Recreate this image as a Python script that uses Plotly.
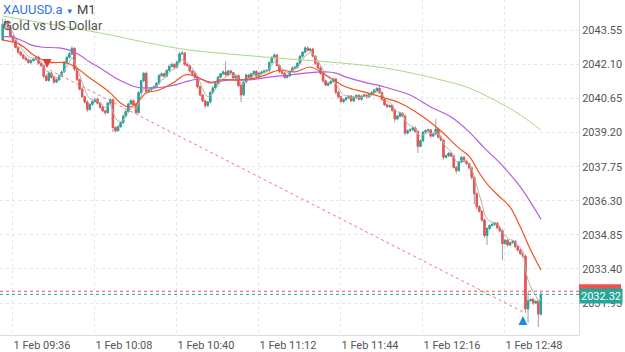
import pandas as pd
import plotly.graph_objects as go

symbol = "XAUUSD.a"
timeframe = "M1"
description = "Gold vs US Dollar"
start_time = "2024-02-01 09:32"

opens = [
    2043.14, 2043.80, 2043.92, 2043.66, 2043.30, 2043.10, 2042.82, 2042.62, 2042.50, 2042.37,
    2042.30, 2042.18, 2042.26, 2042.32, 2042.40, 2042.15, 2042.05, 2041.60, 2041.42, 2041.73,
    2041.55, 2041.35, 2041.45, 2041.62, 2041.78, 2042.20, 2042.40, 2042.55, 2042.78, 2041.90,
    2041.45, 2041.05, 2040.72, 2040.50, 2040.18, 2040.40, 2040.52, 2040.62, 2040.45, 2040.28,
    2040.12, 2040.05, 2040.45, 2040.60, 2039.42, 2039.28, 2039.45, 2039.62, 2039.90, 2040.10,
    2040.42, 2040.55, 2040.40, 2040.05, 2040.90, 2041.40, 2041.72, 2040.95, 2041.02, 2041.10,
    2041.15, 2041.30, 2041.62, 2041.70, 2041.60, 2041.85, 2042.02, 2042.10, 2041.98, 2042.20,
    2042.55, 2042.58, 2042.10, 2042.05, 2041.82, 2041.70, 2041.55, 2041.15, 2040.80, 2040.55,
    2040.35, 2040.50, 2040.90, 2041.10, 2041.30, 2041.55, 2041.70, 2041.78, 2041.65, 2041.82,
    2041.75, 2041.52, 2041.62, 2041.20, 2040.80, 2041.35, 2041.65, 2041.55, 2041.70, 2041.80,
    2041.60, 2041.72, 2041.78, 2041.82, 2041.85, 2042.18, 2042.40, 2042.50, 2042.05, 2041.80,
    2041.72, 2041.55, 2041.62, 2041.80, 2041.95, 2041.98, 2042.15, 2042.45, 2042.62, 2042.80,
    2042.70, 2042.75, 2042.45, 2042.15, 2041.95, 2041.72, 2041.40, 2041.22, 2041.30, 2041.38,
    2041.48, 2040.92, 2040.72, 2040.52, 2040.60, 2040.68, 2040.75, 2040.55, 2040.70, 2040.78,
    2040.62, 2040.75, 2040.80, 2040.72, 2040.82, 2040.90, 2041.00, 2041.08, 2040.90, 2040.62,
    2040.38, 2040.30, 2040.35, 2040.15, 2039.78, 2039.90, 2040.02, 2039.90, 2039.18, 2039.28,
    2039.32, 2039.40, 2039.25, 2038.62, 2038.85, 2039.22, 2039.28, 2039.32, 2039.05, 2039.15,
    2039.35, 2039.00, 2038.88, 2038.15, 2038.22, 2038.32, 2038.20, 2037.72, 2037.58, 2037.95,
    2038.15, 2037.98, 2037.88, 2037.70, 2037.30, 2036.60, 2036.05, 2035.85, 2035.48, 2034.82,
    2035.12, 2035.25, 2035.30, 2035.35, 2035.15, 2035.02, 2034.48, 2034.62, 2034.42, 2034.52,
    2034.58, 2034.35, 2034.20, 2034.05, 2033.95, 2031.70, 2032.05, 2032.10, 2031.95, 2032.02,
    2031.48,
]

closes = [
    2043.80, 2043.92, 2043.66, 2043.30, 2043.10, 2042.82, 2042.62, 2042.50, 2042.37, 2042.30,
    2042.18, 2042.26, 2042.32, 2042.40, 2042.15, 2042.05, 2041.60, 2041.42, 2041.73, 2041.55,
    2041.35, 2041.45, 2041.62, 2041.78, 2042.20, 2042.40, 2042.55, 2042.78, 2041.90, 2041.45,
    2041.05, 2040.72, 2040.50, 2040.18, 2040.40, 2040.52, 2040.62, 2040.45, 2040.28, 2040.12,
    2040.05, 2040.45, 2040.60, 2039.42, 2039.28, 2039.45, 2039.62, 2039.90, 2040.10, 2040.42,
    2040.55, 2040.40, 2040.05, 2040.90, 2041.40, 2041.72, 2040.95, 2041.02, 2041.10, 2041.15,
    2041.30, 2041.62, 2041.70, 2041.60, 2041.85, 2042.02, 2042.10, 2041.98, 2042.20, 2042.55,
    2042.58, 2042.10, 2042.05, 2041.82, 2041.70, 2041.55, 2041.15, 2040.80, 2040.55, 2040.35,
    2040.50, 2040.90, 2041.10, 2041.30, 2041.55, 2041.70, 2041.78, 2041.65, 2041.82, 2041.75,
    2041.52, 2041.62, 2041.20, 2040.80, 2041.35, 2041.65, 2041.55, 2041.70, 2041.80, 2041.60,
    2041.72, 2041.78, 2041.82, 2041.85, 2042.18, 2042.40, 2042.50, 2042.05, 2041.80, 2041.72,
    2041.55, 2041.62, 2041.80, 2041.95, 2041.98, 2042.15, 2042.45, 2042.62, 2042.80, 2042.70,
    2042.75, 2042.45, 2042.15, 2041.95, 2041.72, 2041.40, 2041.22, 2041.30, 2041.38, 2041.48,
    2040.92, 2040.72, 2040.52, 2040.60, 2040.68, 2040.75, 2040.55, 2040.70, 2040.78, 2040.62,
    2040.75, 2040.80, 2040.72, 2040.82, 2040.90, 2041.00, 2041.08, 2040.90, 2040.62, 2040.38,
    2040.30, 2040.35, 2040.15, 2039.78, 2039.90, 2040.02, 2039.90, 2039.18, 2039.28, 2039.32,
    2039.40, 2039.25, 2038.62, 2038.85, 2039.22, 2039.28, 2039.32, 2039.05, 2039.15, 2039.35,
    2039.00, 2038.88, 2038.15, 2038.22, 2038.32, 2038.20, 2037.72, 2037.58, 2037.95, 2038.15,
    2037.98, 2037.88, 2037.70, 2037.30, 2036.60, 2036.05, 2035.85, 2035.48, 2034.82, 2035.12,
    2035.25, 2035.30, 2035.35, 2035.15, 2035.02, 2034.48, 2034.62, 2034.42, 2034.52, 2034.58,
    2034.35, 2034.20, 2034.05, 2033.95, 2031.70, 2032.05, 2032.10, 2031.95, 2032.02, 2031.48,
    2032.32,
]

# wick lengths above / below the candle body (price units)
upper_wicks = [
    0.25, 0.12, 0.05, 0.06, 0.04, 0.07, 0.05, 0.06, 0.04, 0.08,
    0.05, 0.06, 0.07, 0.05, 0.06, 0.04, 0.05, 0.08, 0.06, 0.05,
    0.04, 0.06, 0.05, 0.07, 0.05, 0.06, 0.08, 0.10, 0.06, 0.05,
    0.04, 0.06, 0.05, 0.07, 0.05, 0.06, 0.04, 0.08, 0.05, 0.06,
    0.05, 0.07, 0.06, 0.05, 0.04, 0.06, 0.05, 0.07, 0.06, 0.05,
    0.08, 0.05, 0.06, 0.07, 0.05, 0.06, 0.08, 0.05, 0.04, 0.06,
    0.05, 0.07, 0.06, 0.05, 0.04, 0.06, 0.08, 0.05, 0.06, 0.07,
    0.10, 0.05, 0.06, 0.04, 0.05, 0.07, 0.06, 0.05, 0.04, 0.06,
    0.05, 0.06, 0.07, 0.05, 0.06, 0.04, 0.08, 0.45, 0.05, 0.06,
    0.04, 0.06, 0.05, 0.07, 0.05, 0.06, 0.05, 0.04, 0.06, 0.05,
    0.07, 0.05, 0.06, 0.04, 0.05, 0.06, 0.08, 0.05, 0.06, 0.04,
    0.05, 0.06, 0.05, 0.07, 0.05, 0.06, 0.04, 0.05, 0.08, 0.06,
    0.05, 0.06, 0.04, 0.05, 0.07, 0.05, 0.06, 0.05, 0.04, 0.06,
    0.05, 0.07, 0.06, 0.05, 0.04, 0.06, 0.05, 0.07, 0.05, 0.06,
    0.04, 0.05, 0.06, 0.05, 0.07, 0.06, 0.05, 0.15, 0.06, 0.05,
    0.06, 0.04, 0.05, 0.07, 0.05, 0.06, 0.05, 0.08, 0.05, 0.06,
    0.04, 0.06, 0.05, 0.07, 0.05, 0.06, 0.05, 0.04, 0.06, 0.43,
    0.05, 0.06, 0.04, 0.05, 0.07, 0.05, 0.06, 0.05, 0.04, 0.06,
    0.05, 0.07, 0.05, 0.06, 0.04, 0.05, 0.06, 0.05, 0.07, 0.06,
    0.05, 0.06, 0.04, 0.05, 0.06, 0.07, 0.05, 0.06, 0.04, 0.05,
    0.06, 0.05, 0.07, 0.05, 0.06, 0.37, 0.05, 0.06, 0.04, 0.05,
    0.13,
]

lower_wicks = [
    0.06, 0.05, 0.07, 0.05, 0.06, 0.04, 0.08, 0.05, 0.06, 0.07,
    0.05, 0.06, 0.04, 0.05, 0.07, 0.06, 0.10, 0.05, 0.06, 0.05,
    0.08, 0.05, 0.06, 0.04, 0.05, 0.07, 0.05, 0.06, 0.08, 0.05,
    0.06, 0.05, 0.07, 0.10, 0.05, 0.06, 0.04, 0.05, 0.07, 0.06,
    0.10, 0.05, 0.06, 0.20, 0.08, 0.05, 0.06, 0.04, 0.05, 0.06,
    0.05, 0.07, 0.06, 0.05, 0.04, 0.06, 0.08, 0.05, 0.06, 0.05,
    0.06, 0.05, 0.04, 0.07, 0.05, 0.06, 0.05, 0.07, 0.06, 0.05,
    0.04, 0.06, 0.05, 0.07, 0.05, 0.06, 0.08, 0.06, 0.05, 0.12,
    0.06, 0.05, 0.07, 0.05, 0.06, 0.04, 0.05, 0.06, 0.05, 0.07,
    0.06, 0.05, 0.07, 0.30, 0.05, 0.06, 0.04, 0.05, 0.06, 0.05,
    0.05, 0.06, 0.04, 0.05, 0.07, 0.05, 0.06, 0.05, 0.08, 0.06,
    0.07, 0.05, 0.06, 0.04, 0.05, 0.06, 0.05, 0.07, 0.06, 0.05,
    0.06, 0.05, 0.07, 0.05, 0.06, 0.08, 0.05, 0.06, 0.04, 0.05,
    0.10, 0.06, 0.05, 0.07, 0.05, 0.06, 0.04, 0.05, 0.06, 0.05,
    0.06, 0.05, 0.07, 0.05, 0.06, 0.04, 0.05, 0.06, 0.08, 0.05,
    0.06, 0.05, 0.07, 0.15, 0.05, 0.06, 0.05, 0.10, 0.06, 0.05,
    0.05, 0.06, 0.29, 0.05, 0.06, 0.04, 0.05, 0.07, 0.05, 0.06,
    0.05, 0.06, 0.10, 0.05, 0.07, 0.05, 0.06, 0.12, 0.05, 0.06,
    0.05, 0.06, 0.07, 0.10, 0.45, 0.12, 0.06, 0.08, 0.10, 0.40,
    0.06, 0.05, 0.07, 0.05, 0.06, 0.70, 0.05, 0.08, 0.06, 0.05,
    0.07, 0.05, 0.06, 0.08, 0.18, 0.60, 0.06, 0.08, 0.05, 0.55,
    0.06,
]

# moving averages (candle index -> price)
ma_red_idx = [0, 7, 12, 18, 25, 30, 34, 38, 42, 46, 49, 52, 56, 61, 67, 71, 75, 81, 85, 93,
              100, 108, 114, 120, 126, 134, 141, 149, 155, 163, 171, 178, 182, 186, 190, 194,
              198, 202, 206, 210]
ma_red_vals = [2043.14, 2042.93, 2042.50, 2042.20, 2042.16, 2041.86, 2041.52, 2041.22, 2040.88,
               2040.46, 2040.29, 2040.42, 2040.88, 2041.01, 2041.35, 2041.65, 2041.61, 2041.31,
               2041.44, 2041.44, 2041.56, 2041.86, 2041.78, 2041.99, 2041.65, 2041.14, 2040.93,
               2040.67, 2040.46, 2039.95, 2039.27, 2038.54, 2038.20, 2037.48, 2036.89, 2036.46,
               2036.03, 2035.18, 2034.21, 2033.36]

ma_purple_idx = [0, 3, 7, 11, 15, 22, 26, 30, 34, 38, 44, 48, 52, 57, 63, 67, 71, 77, 81, 89,
                 96, 104, 112, 118, 126, 130, 134, 141, 149, 159, 167, 175, 182, 188, 194, 202, 210]
ma_purple_vals = [2043.27, 2043.27, 2043.14, 2042.93, 2042.84, 2042.80, 2042.71, 2042.50, 2042.20,
                  2041.95, 2041.52, 2041.31, 2041.14, 2041.10, 2041.14, 2041.22, 2041.35, 2041.48,
                  2041.35, 2041.44, 2041.44, 2041.56, 2041.65, 2041.73, 2041.78, 2041.73, 2041.56,
                  2041.35, 2041.14, 2040.80, 2040.29, 2039.86, 2039.23, 2038.54, 2037.91, 2036.89,
                  2035.52]

ma_green_idx = [0, 18, 38, 57, 73, 93, 112, 132, 149, 163, 171, 182, 194, 202, 210]
ma_green_vals = [2044.16, 2043.82, 2043.44, 2043.01, 2042.71, 2042.50, 2042.33, 2042.16, 2041.95,
                 2041.65, 2041.44, 2041.10, 2040.46, 2039.95, 2039.31]

# trade (sell -> buy) and markers
trade_times = ["2024-02-01 09:50:24", "2024-02-01 12:55:48"]
trade_prices = [2041.86, 2031.53]
sell_time, sell_price = "2024-02-01 09:49:18", 2041.95
buy_time, buy_price = "2024-02-01 12:55:00", 2031.40

bid_price = 2032.32
ask_price = 2032.45

y_ticks = [2031.95, 2033.40, 2034.85, 2036.30, 2037.75, 2039.20, 2040.65, 2042.10, 2043.55]
x_tick_times = ["09:36", "10:08", "10:40", "11:12", "11:44", "12:16", "12:48"]
x_range = ["2024-02-01 09:30:56", "2024-02-01 13:16:53"]
y_range = [2030.59, 2044.84]

# ---------------------------------------------------------------
UP = "#26a69a"
DOWN = "#ef5350"
WICK = "#9e9e9e"
FONT = "Roboto, Arial, sans-serif"

times = pd.date_range(start_time, periods=len(closes), freq="min")
highs = [round(max(o, c) + u, 2) for o, c, u in zip(opens, closes, upper_wicks)]
lows = [round(min(o, c) - d, 2) for o, c, d in zip(opens, closes, lower_wicks)]
body_hi = [max(o, c) for o, c in zip(opens, closes)]
body_lo = [min(o, c) for o, c in zip(opens, closes)]

fig = go.Figure()

# wicks (grey)
fig.add_trace(go.Candlestick(
    x=times, open=opens, high=highs, low=lows, close=closes,
    increasing=dict(line=dict(color=WICK, width=1), fillcolor=WICK),
    decreasing=dict(line=dict(color=WICK, width=1), fillcolor=WICK),
    whiskerwidth=0, showlegend=False, hoverinfo="skip",
))
# bodies (coloured)
fig.add_trace(go.Candlestick(
    x=times, open=opens, high=body_hi, low=body_lo, close=closes,
    increasing=dict(line=dict(color=UP, width=1), fillcolor=UP),
    decreasing=dict(line=dict(color=DOWN, width=1), fillcolor=DOWN),
    whiskerwidth=0, showlegend=False,
))

# fast MA (grey), from closes
fast_ma = pd.Series(closes).ewm(span=5, adjust=False).mean()
fig.add_trace(go.Scatter(x=times, y=fast_ma, mode="lines",
                         line=dict(color="#b4b4b4", width=1), showlegend=False))

fig.add_trace(go.Scatter(x=times[ma_green_idx], y=ma_green_vals, mode="lines",
                         line=dict(color="#a8d884", width=1, shape="spline"), showlegend=False))
fig.add_trace(go.Scatter(x=times[ma_purple_idx], y=ma_purple_vals, mode="lines",
                         line=dict(color="#b45ee0", width=1.2, shape="spline"), showlegend=False))
fig.add_trace(go.Scatter(x=times[ma_red_idx], y=ma_red_vals, mode="lines",
                         line=dict(color="#f4511e", width=1.2, shape="spline"), showlegend=False))

# trade line
fig.add_trace(go.Scatter(x=trade_times, y=trade_prices, mode="lines",
                         line=dict(color="#f27a6e", width=1, dash="dot"), showlegend=False))
fig.add_trace(go.Scatter(x=[sell_time], y=[sell_price], mode="markers",
                         marker=dict(symbol="arrow-down", size=9, color="#e53935"),
                         showlegend=False))
fig.add_trace(go.Scatter(x=[buy_time], y=[buy_price], mode="markers",
                         marker=dict(symbol="arrow-up", size=9, color="#1e88e5"),
                         showlegend=False))

# bid / ask lines
fig.add_hline(y=ask_price, line=dict(color=DOWN, width=1, dash="dot"))
fig.add_hline(y=bid_price, line=dict(color=UP, width=1, dash="dot"))

# ask tag (only its top edge shows behind the bid tag)
fig.add_shape(type="rect", xref="paper", x0=1.0, x1=1.0 + 42 / 579, yref="y",
              y0=ask_price - 0.28, y1=ask_price + 0.30, fillcolor=DOWN, line_width=0,
              layer="above")
fig.add_annotation(x=1, xref="paper", y=bid_price, yref="y", xanchor="left", yanchor="middle",
                   yshift=-2, text=f"{bid_price:.2f}", showarrow=False, bgcolor=UP,
                   font=dict(color="white", size=11, family=FONT), width=40, height=12, borderpad=1)

# header
fig.add_annotation(x=0, xref="paper", y=1, yref="paper", xanchor="left", yanchor="top",
                   xshift=1, yshift=0, showarrow=False, align="left",
                   text=(f"<span style='color:#2f74e0'>{symbol}</span> "
                         f"<span style='color:#2f74e0;font-size:8px'>▼</span> "
                         f"<span style='color:#444'>{timeframe}</span>"),
                   font=dict(size=13, family=FONT))
fig.add_annotation(x=0, xref="paper", y=1, yref="paper", xanchor="left", yanchor="top",
                   xshift=1, yshift=-16, showarrow=False, align="left",
                   text=description, font=dict(size=13, family=FONT, color="#555"))

fig.update_layout(
    width=625, height=352,
    margin=dict(l=0, r=46, t=0, b=17),
    paper_bgcolor="white", plot_bgcolor="white",
    font=dict(family=FONT, size=11, color="#555"),
    showlegend=False, boxgap=0.25,
)
fig.update_xaxes(
    type="date", range=x_range, rangeslider_visible=False,
    tickvals=[f"2024-02-01 {t}" for t in x_tick_times],
    ticktext=[f"1 Feb {t}" for t in x_tick_times],
    ticklabelposition="outside right",
    showgrid=True, gridcolor="#e6e6e6", griddash="3px,3px", gridwidth=1,
    showline=True, linecolor="#dcdcdc", mirror=True, zeroline=False,
    ticks="", automargin=False, tickfont=dict(size=11, color="#555"),
)
fig.update_yaxes(
    range=y_range, side="right", tickvals=y_ticks,
    ticktext=[f"{v:.2f}" for v in y_ticks],
    showgrid=True, gridcolor="#e6e6e6", griddash="3px,3px", gridwidth=1,
    showline=True, linecolor="#dcdcdc", mirror=True, zeroline=False,
    ticks="", automargin=False, tickfont=dict(size=11, color="#555"),
)

fig.write_html("out.html")
